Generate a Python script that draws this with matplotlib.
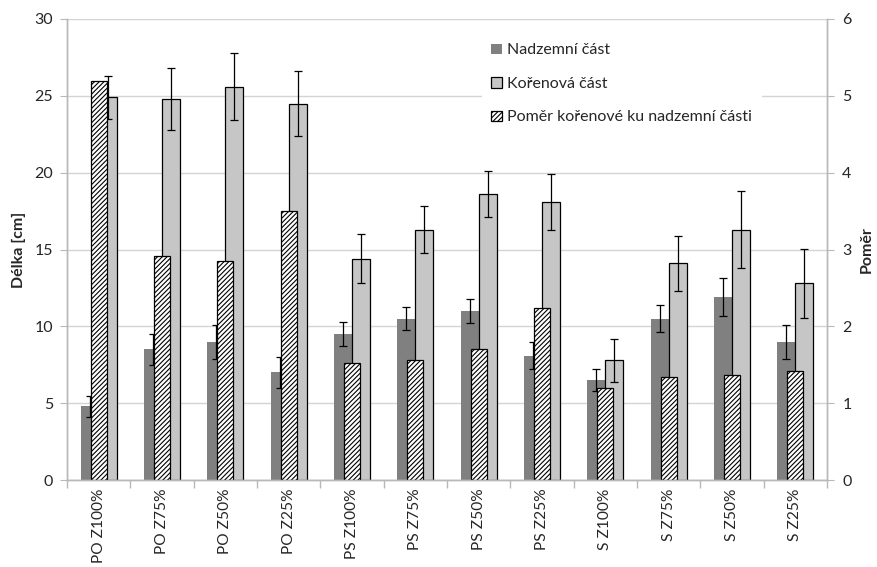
import numpy as np
import matplotlib.pyplot as plt

plt.rcParams['font.family'] = ['Lato', 'DejaVu Sans']
plt.rcParams['hatch.linewidth'] = 0.8

# data
groups = ['PO Z100%', 'PO Z75%', 'PO Z50%', 'PO Z25%',
          'PS Z100%', 'PS Z75%', 'PS Z50%', 'PS Z25%',
          'S Z100%', 'S Z75%', 'S Z50%', 'S Z25%']
nadzemni = [4.8, 8.5, 9.0, 7.0, 9.5, 10.5, 11.0, 8.1, 6.5, 10.5, 11.9, 9.0]
nadzemni_err = [0.7, 1.0, 1.1, 1.0, 0.8, 0.75, 0.75, 0.9, 0.7, 0.9, 1.25, 1.1]
korenova = [24.9, 24.8, 25.6, 24.5, 14.4, 16.3, 18.6, 18.1, 7.8, 14.1, 16.3, 12.8]
korenova_err = [1.4, 2.0, 2.2, 2.1, 1.6, 1.5, 1.5, 1.8, 1.4, 1.8, 2.5, 2.25]
pomer = [5.19, 2.92, 2.85, 3.5, 1.52, 1.56, 1.7, 2.24, 1.2, 1.34, 1.37, 1.42]

grid_c = '#d4d4d4'
axis_c = '#b8b8b8'
text_c = '#262626'
fs = 11.5

fig = plt.figure(figsize=(8.77, 5.67), dpi=100)
ax = fig.add_axes([0.0764, 0.1534, 0.8666, 0.8131])
ax2 = ax.twinx()

x = np.arange(len(groups))
w = 0.284
ax.bar(x - w / 2, nadzemni, w, color='#808080', edgecolor='none', zorder=2,
       label='Nadzemní část')
ax.bar(x + w / 2, korenova, w, color='#c6c6c6', edgecolor='black', linewidth=0.9,
       zorder=2, label='Kořenová část')
ax.errorbar(x - w / 2, nadzemni, yerr=nadzemni_err, fmt='none', ecolor='black',
            elinewidth=0.9, capsize=3, capthick=0.9, zorder=3)
ax.errorbar(x + w / 2, korenova, yerr=korenova_err, fmt='none', ecolor='black',
            elinewidth=0.9, capsize=3, capthick=0.9, zorder=3)

ax2.bar(x, pomer, 0.25, color='white', edgecolor='black', hatch='///////',
        linewidth=0.9, zorder=2, label='Poměr kořenové ku nadzemní části')

ax.set_xlim(-0.5, len(groups) - 0.5)
ax.set_ylim(0, 30)
ax2.set_ylim(0, 6)
ax.set_yticks(range(0, 31, 5))
ax2.set_yticks(range(0, 7))

ax.yaxis.grid(True, color=grid_c, linewidth=1)
ax.set_axisbelow(True)

ax.set_xticks(x)
ax.set_xticklabels(groups, rotation=90, fontsize=11.2, color=text_c)
ax.set_xticks(np.arange(-0.5, len(groups)), minor=True)
ax.tick_params(axis='x', which='major', length=0, pad=6)
ax.tick_params(axis='x', which='minor', length=6, color=axis_c, width=1)
ax.tick_params(axis='y', length=5, color=axis_c, labelsize=fs, labelcolor=text_c, pad=5)
ax2.tick_params(axis='y', length=5, color=axis_c, labelsize=fs, labelcolor=text_c, pad=6)

for a in (ax, ax2):
    a.spines['top'].set_visible(False)
    for s in ('left', 'right', 'bottom'):
        a.spines[s].set_color(axis_c)
        a.spines[s].set_linewidth(1)

ax.set_ylabel('Délka [cm]', fontsize=fs, fontweight='bold', color=text_c, labelpad=6)
ax2.set_ylabel('Poměr', fontsize=fs, fontweight='bold', color=text_c, labelpad=6)

h1, l1 = ax.get_legend_handles_labels()
h2, l2 = ax2.get_legend_handles_labels()
leg = ax2.legend(h1 + h2, l1 + l2, loc='upper left', bbox_to_anchor=(0.535, 0.985),
                 frameon=True, fancybox=False, framealpha=1, facecolor='white',
                 edgecolor='none', fontsize=fs, handlelength=0.65, handleheight=0.65,
                 handletextpad=0.35, labelspacing=1.22, borderpad=0.6)
for t in leg.get_texts():
    t.set_color(text_c)

fig.savefig('out.png', dpi=100)
